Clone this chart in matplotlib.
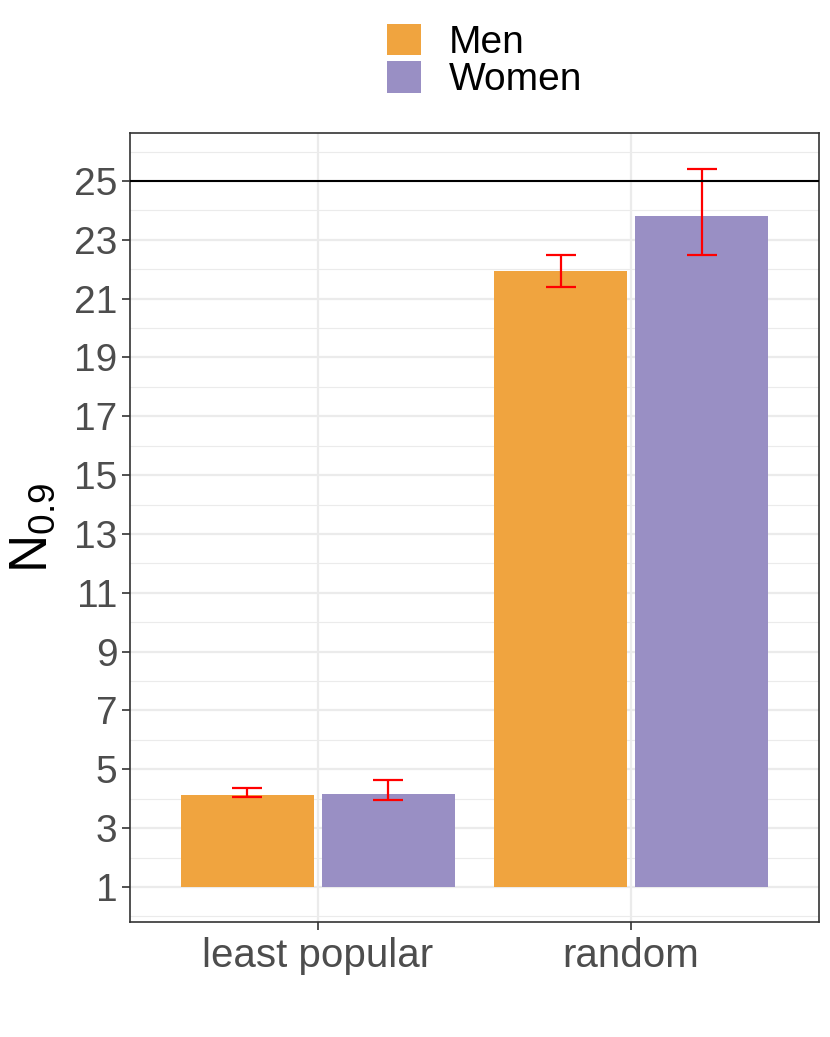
import matplotlib
matplotlib.use("Agg")
import matplotlib.pyplot as plt
import numpy as np
from matplotlib.patches import Patch

plt.rcParams['font.family'] = ['Liberation Sans', 'DejaVu Sans']
plt.rcParams['mathtext.fontset'] = 'custom'
plt.rcParams['mathtext.rm'] = 'Liberation Sans'
plt.rcParams['mathtext.it'] = 'Liberation Sans'

categories = ["least popular", "random"]
groups = ["Men", "Women"]
colors = ["#F0A43F", "#998FC4"]
means = {"Men": [4.13, 21.93], "Women": [4.17, 23.80]}
lower = {"Men": [4.06, 21.39], "Women": [3.97, 22.49]}
upper = {"Men": [4.37, 22.48], "Women": [4.64, 25.40]}
baseline = 1
ref_line = 25
yticks = list(range(1, 27, 2))

fig = plt.figure(figsize=(8.3, 10.37), dpi=100)
ax = fig.add_axes([0.1566, 0.1109, 0.8301, 0.7608])

x = np.arange(1, len(categories) + 1)
offsets = [-0.225, 0.225]
width = 0.425
for g, off, c in zip(groups, offsets, colors):
    m = np.array(means[g])
    ax.bar(x + off, m - baseline, width=width, bottom=baseline, color=c,
           edgecolor="none", zorder=3)
    lo = m - np.array(lower[g])
    hi = np.array(upper[g]) - m
    ax.errorbar(x + off, m, yerr=[lo, hi], fmt="none", ecolor="red",
                elinewidth=1.6, capsize=11, capthick=1.6, zorder=4)

ax.axhline(ref_line, color="black", lw=1.5, zorder=5)

ax.set_xlim(0.4, 2.6)
ax.set_ylim(-0.19, 26.63)
ax.set_xticks(x)
ax.set_xticklabels(categories)
ax.set_yticks(yticks)
ax.set_yticks(range(0, 27, 2), minor=True)
ax.grid(True, which="major", color="#EBEBEB", lw=1.6, zorder=0)
ax.grid(True, which="minor", axis="y", color="#EBEBEB", lw=0.8, zorder=0)
ax.tick_params(axis="both", which="major", labelsize=28, colors="#333333",
               labelcolor="#4D4D4D", length=6, width=1.2, pad=3)
ax.tick_params(axis="x", which="major", labelsize=29, pad=5)
ax.tick_params(axis="y", which="minor", length=0)
for s in ax.spines.values():
    s.set_color("#333333")
    s.set_linewidth(1.2)

ax.set_ylabel(r"$\mathrm{N}_{0.9}$", fontsize=38, labelpad=12)

handles = [Patch(facecolor=c, edgecolor="none") for c in colors]
fig.legend(handles, groups, loc="upper center", bbox_to_anchor=(0.584, 1.007),
           frameon=False, fontsize=28, handlelength=0.87, handleheight=0.87,
           handletextpad=0.72, labelspacing=0.0, borderpad=0.3)

fig.savefig("out.png", dpi=100)
